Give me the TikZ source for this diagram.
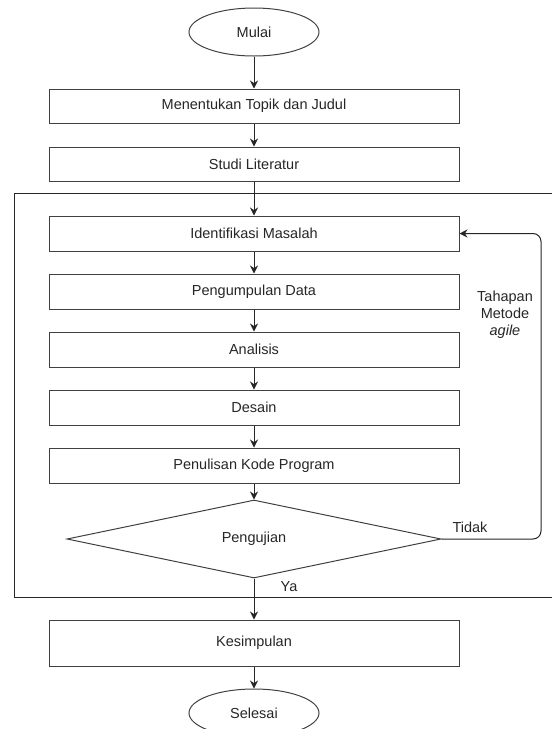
\documentclass[tikz,border=0pt]{standalone}
\usepackage{fontspec}
\setmainfont{Liberation Sans}
\usetikzlibrary{shapes.geometric,arrows.meta}

\begin{document}
\begin{tikzpicture}[x=1pt,y=-1pt,
		every node/.style={font=\fontsize{14.5}{17}\selectfont,text=black!85},
		kotak/.style={draw=black!75,line width=1pt,rectangle,minimum width=410pt,minimum height=35pt,inner sep=0pt},
		terminal/.style={draw=black!75,line width=1pt,ellipse,minimum width=130pt,minimum height=48pt,inner sep=0pt},
		keputusan/.style={draw=black!75,line width=1pt,diamond,minimum width=374pt,minimum height=69pt,inner sep=0pt},
		panah/.style={draw=black!85,line width=1pt,-{Stealth[length=8pt,width=8pt]}}]
				\useasboundingbox (0,0) rectangle (552,729);
				
				\draw[black!85,line width=1pt] (552,193)--(14,193)--(14,597)--(552,597);
				
				\node[terminal] (mulai) at (254,32) {Mulai};
				\node[kotak,minimum height=34pt] (topik) at (254,106) {Menentukan Topik dan Judul};
				\node[kotak,minimum height=34pt] (studi) at (254,164) {Studi Literatur};
				
				\node[kotak] (identifikasi) at (254,233.5) {Identifikasi Masalah};
				\node[kotak] (pengumpulan) at (254,291.5) {Pengumpulan Data};
				\node[kotak] (analisis) at (254,349.5) {Analisis};
				\node[kotak] (desain) at (254,407.5) {Desain};
				\node[kotak] (kode) at (254,465.5) {Penulisan Kode Program};
				\node[keputusan] (uji) at (254,539) {Pengujian};
				
				\node[kotak,minimum height=46pt] (kesimpulan) at (254,643) {Kesimpulan};
				\node[terminal] (selesai) at (254,713) {Selesai};
				
				\draw[panah] (mulai)--(topik);
				\draw[panah] (topik)--(studi);
				\draw[panah] (studi)--(identifikasi);
				\draw[panah] (identifikasi)--(pengumpulan);
				\draw[panah] (pengumpulan)--(analisis);
				\draw[panah] (analisis)--(desain);
				\draw[panah] (desain)--(kode);
				\draw[panah] (kode)--(uji);
				\draw[panah] (uji)--(kesimpulan);
				\draw[panah] (kesimpulan)--(selesai);
				
				\coordinate (balik) at (541,539);
				\draw[panah,rounded corners=8pt] (uji.east)--(balik)|-(identifikasi.east);
				
				\node (tidak) at (470,527) {Tidak};
				\node (ya) at (289,587) {Ya};
				\node[align=center] (tahapan) at (505,315) {Tahapan\\Metode\\\textit{agile}};
			\end{tikzpicture}
\end{document}
